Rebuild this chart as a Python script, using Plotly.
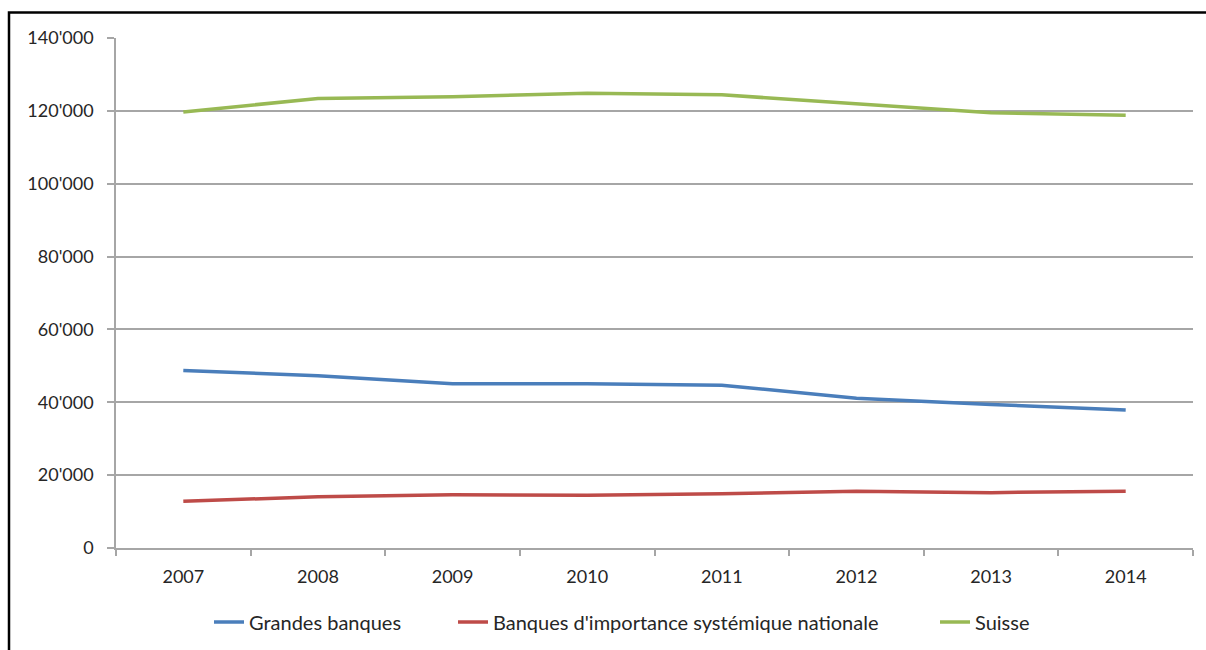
import plotly.graph_objects as go

years = ["2007", "2008", "2009", "2010", "2011", "2012", "2013", "2014"]
grandes_banques = [48700, 47300, 45100, 45100, 44700, 41100, 39400, 37900]
banques_sys = [12800, 14100, 14600, 14500, 14900, 15600, 15200, 15600]
suisse = [119700, 123400, 123900, 124800, 124400, 122000, 119500, 118800]

series = [
    ("Grandes banques", grandes_banques, "#4A7EBB", "legend"),
    ("Banques d'importance systémique nationale", banques_sys, "#BE4B48", "legend2"),
    ("Suisse", suisse, "#98B954", "legend3"),
]

FONT = "Lato"
W, H = 1206, 650
L, R, T, B = 116, 13, 38, 102
pw = W - L - R
ph = H - T - B


def px(x):
    return (x - L) / pw


def py(y):
    return (H - B - y) / ph


fig = go.Figure()
for name, vals, col, lg in series:
    fig.add_trace(go.Scatter(x=years, y=vals, name=name, mode="lines",
                             line=dict(color=col, width=3.5), legend=lg))

legfont = dict(family=FONT, size=20, color="#262626")


def leg(xpix):
    return dict(orientation="h", xref="container", yref="container",
                x=xpix / W, xanchor="left", y=(H - 622) / H, yanchor="middle",
                font=legfont, bgcolor="rgba(0,0,0,0)", borderwidth=0)


GRID = "#A6A6A6"
fig.update_layout(
    width=W, height=H,
    margin=dict(l=L, r=R, t=T, b=B, autoexpand=False),
    paper_bgcolor="white", plot_bgcolor="white",
    separators=".'",
    font=dict(family=FONT, size=18, color="#262626"),
    showlegend=True,
    legend=leg(209),
    legend2=leg(453),
    legend3=leg(935),
    xaxis=dict(type="category", range=[-0.5, 7.5], showgrid=False,
               showline=True, linecolor=GRID, linewidth=1.5,
               ticks="outside", tickson="boundaries", ticklen=6, tickcolor=GRID,
               tickwidth=1.5, automargin=False,
               tickfont=dict(family=FONT, size=18, color="#262626"),
               ticklabelstandoff=12),
    yaxis=dict(range=[0, 140000], tick0=0, dtick=20000, tickformat=",d",
               showgrid=True, gridcolor=GRID, gridwidth=1.5,
               showline=True, linecolor=GRID, linewidth=1.5,
               ticks="outside", ticklen=7, tickcolor=GRID, tickwidth=1.5,
               automargin=False,
               tickfont=dict(family=FONT, size=18, color="#262626"),
               zeroline=False, ticklabelstandoff=10),
    shapes=[dict(type="rect", xref="paper", yref="paper",
                 x0=px(9), x1=px(1212), y0=py(670), y1=py(12.5),
                 line=dict(color="black", width=2.5), layer="above")],
)

fig.write_html("out.html",
               config={"displayModeBar": False},
               post_script="document.body.style.margin='0';document.body.style.padding='0';")
